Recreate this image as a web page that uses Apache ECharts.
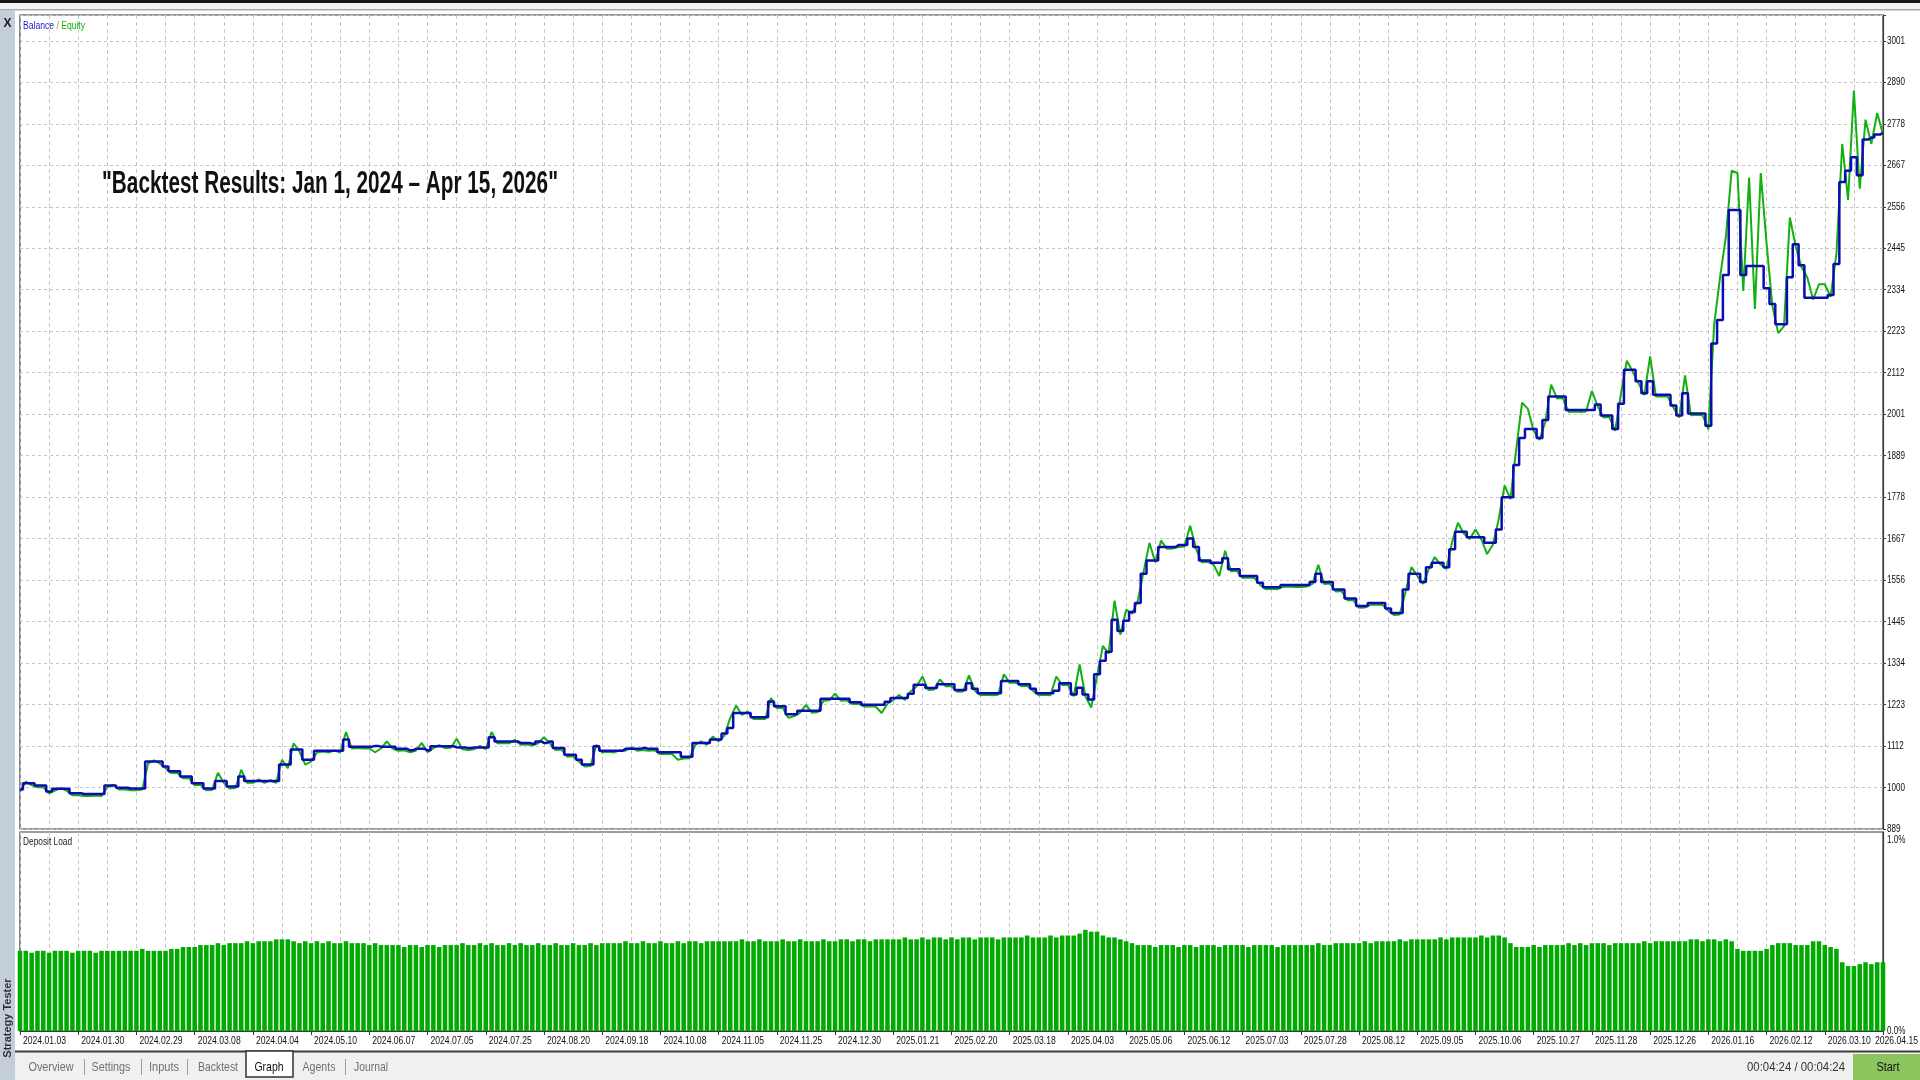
<!DOCTYPE html>
<html><head><meta charset="utf-8">
<script src="https://cdn.jsdelivr.net/npm/echarts/dist/echarts.min.js"></script>
<style>
html,body{margin:0;padding:0;width:1920px;height:1080px;overflow:hidden;background:#ffffff;}
#chart{position:absolute;left:0;top:0;width:1920px;height:1080px;}
</style></head><body><div id="chart"></div>
<script>
// ---------------- DATA ----------------
const chartTitle = '"Backtest Results: Jan 1, 2024 \u2013 Apr 15, 2026"';
const dateLabels = ['2024.01.03','2024.01.30','2024.02.29','2024.03.08','2024.04.04','2024.05.10','2024.06.07','2024.07.05','2024.07.25','2024.08.20','2024.09.18','2024.10.08','2024.11.05','2024.11.25','2024.12.30','2025.01.21','2025.02.20','2025.03.18','2025.04.03','2025.05.06','2025.06.12','2025.07.03','2025.07.28','2025.08.12','2025.09.05','2025.10.06','2025.10.27','2025.11.28','2025.12.26','2026.01.16','2026.02.12','2026.03.10','2026.04.15'];
const yTickLabels = ['889','1000','1112','1223','1334','1445','1556','1667','1778','1889','2001','2112','2223','2334','2445','2556','2667','2778','2890','3001'];
const loadTickLabels = ['0.0%','1.0%'];
const loadTickValues = [0, 1];
const balance = [
995,1012,1012,1006,1006,990,997,997,997,985,
985,983,983,983,983,1006,1006,1000,1000,998,
998,998,1070,1070,1070,1057,1044,1044,1030,1030,
1012,1012,998,998,1018,1018,1003,1003,1030,1018,
1018,1018,1018,1018,1018,1062,1062,1102,1102,1075,
1075,1099,1099,1099,1099,1099,1129,1110,1110,1110,
1110,1112,1110,1110,1110,1104,1104,1100,1104,1104,
1100,1111,1111,1111,1111,1108,1108,1106,1108,1108,
1108,1135,1124,1124,1124,1124,1120,1120,1118,1124,
1120,1124,1106,1106,1088,1088,1075,1062,1062,1111,
1099,1099,1099,1099,1104,1104,1104,1106,1104,1104,
1095,1095,1095,1095,1083,1083,1120,1120,1120,1129,
1129,1145,1160,1200,1200,1200,1189,1189,1189,1231,
1218,1218,1197,1197,1206,1206,1206,1206,1238,1238,
1238,1238,1238,1229,1229,1222,1222,1222,1222,1230,
1240,1240,1240,1252,1276,1276,1267,1267,1277,1277,
1277,1262,1262,1280,1265,1253,1253,1253,1253,1286,
1286,1286,1277,1277,1265,1253,1253,1253,1260,1280,
1280,1250,1268,1250,1236,1304,1340,1364,1450,1420,
1447,1471,1495,1573,1609,1609,1645,1645,1645,1650,
1650,1668,1645,1609,1609,1603,1603,1615,1585,1585,
1567,1567,1567,1549,1537,1537,1537,1543,1543,1543,
1543,1543,1551,1573,1551,1551,1531,1531,1507,1507,
1487,1487,1495,1495,1495,1480,1468,1468,1531,1573,
1573,1551,1591,1603,1603,1591,1639,1686,1686,1671,
1671,1671,1656,1656,1692,1778,1778,1865,1937,1961,
1961,1937,1985,2048,2048,2048,2012,2012,2012,2012,
2012,2027,1997,1997,1961,2029,2120,2120,2089,2057,
2089,2053,2053,2053,2024,1997,2057,2003,2003,2003,
1970,2190,2253,2374,2548,2548,2374,2398,2398,2398,
2338,2296,2242,2242,2368,2456,2400,2313,2313,2313,
2313,2320,2403,2623,2653,2689,2641,2737,2742,2750,2755
];
const equity = [
990,1016,1007,1001,1001,985,992,999,992,980,
980,978,978,979,978,1001,1008,995,995,993,
993,995,1065,1073,1065,1052,1039,1040,1025,1026,
1007,1008,993,994,1040,1013,998,999,1048,1013,
1013,1022,1013,1020,1013,1075,1052,1119,1097,1062,
1070,1094,1097,1094,1100,1094,1149,1105,1106,1105,
1105,1095,1105,1124,1105,1099,1100,1095,1099,1120,
1095,1106,1114,1106,1107,1131,1103,1101,1103,1112,
1103,1149,1119,1120,1119,1128,1115,1116,1113,1119,
1135,1119,1101,1102,1083,1084,1070,1057,1058,1115,
1094,1096,1094,1100,1099,1108,1099,1101,1099,1100,
1090,1091,1090,1075,1078,1079,1115,1124,1115,1137,
1124,1140,1187,1220,1195,1204,1184,1185,1184,1240,
1213,1214,1187,1192,1201,1222,1201,1202,1233,1234,
1252,1233,1234,1224,1225,1217,1218,1217,1200,1225,
1235,1248,1235,1258,1271,1298,1262,1263,1290,1272,
1272,1257,1258,1301,1260,1248,1249,1248,1249,1304,
1281,1282,1272,1273,1260,1248,1249,1248,1298,1275,
1276,1245,1330,1245,1215,1299,1380,1359,1501,1410,
1477,1466,1501,1579,1656,1604,1662,1640,1641,1645,
1646,1702,1640,1604,1605,1598,1567,1635,1580,1581,
1562,1563,1562,1544,1532,1533,1532,1538,1539,1538,
1538,1539,1546,1597,1546,1547,1526,1527,1502,1503,
1482,1483,1490,1491,1490,1475,1463,1464,1526,1591,
1568,1546,1586,1618,1598,1586,1660,1710,1681,1666,
1692,1666,1626,1651,1720,1810,1773,1907,2032,2015,
1956,1932,1980,2080,2043,2044,2007,2008,2007,2008,
2063,2022,1992,1993,1956,2057,2144,2115,2084,2052,
2156,2048,2049,2048,2019,1992,2105,1998,1999,1998,
1960,2240,2367,2475,2653,2647,2331,2635,2283,2647,
2459,2291,2218,2237,2528,2451,2395,2367,2308,2349,
2349,2315,2431,2725,2575,2868,2605,2790,2725,2808,2750
];
const depositLoad = [
.42,.42,.41,.42,.42,.41,.42,.42,.42,.41,
.42,.42,.42,.41,.42,.42,.42,.42,.42,.42,
.42,.43,.42,.42,.42,.42,.43,.43,.44,.44,
.44,.45,.45,.45,.46,.45,.46,.46,.46,.47,
.46,.47,.47,.47,.48,.48,.48,.47,.46,.47,
.46,.47,.46,.47,.46,.46,.47,.46,.46,.46,
.45,.46,.45,.45,.45,.45,.44,.45,.45,.44,
.45,.45,.44,.45,.45,.45,.46,.45,.45,.46,
.45,.46,.45,.45,.46,.45,.46,.45,.45,.46,
.45,.45,.46,.45,.45,.46,.45,.45,.46,.45,
.46,.46,.46,.46,.47,.46,.46,.47,.46,.46,
.47,.46,.46,.47,.46,.47,.47,.46,.47,.47,
.47,.47,.47,.47,.48,.47,.47,.48,.47,.47,
.47,.48,.47,.47,.48,.47,.47,.47,.48,.47,
.47,.48,.48,.47,.48,.48,.47,.48,.48,.48,
.48,.48,.49,.48,.48,.49,.48,.49,.49,.48,
.49,.48,.49,.49,.48,.49,.49,.49,.48,.49,
.49,.49,.49,.50,.49,.49,.49,.50,.49,.50,
.50,.50,.51,.53,.52,.52,.50,.49,.49,.48,
.47,.46,.45,.45,.45,.44,.45,.45,.45,.44,
.45,.45,.44,.45,.45,.45,.44,.45,.45,.45,
.45,.44,.45,.45,.45,.45,.44,.45,.45,.45,
.45,.45,.45,.46,.45,.45,.46,.46,.46,.46,
.46,.47,.46,.47,.47,.47,.47,.48,.47,.48,
.48,.48,.48,.48,.49,.48,.49,.49,.49,.49,
.49,.50,.49,.50,.50,.49,.46,.44,.44,.44,
.45,.44,.45,.45,.45,.45,.46,.45,.46,.45,
.46,.46,.46,.45,.46,.46,.46,.46,.46,.47,
.46,.47,.47,.47,.47,.47,.47,.48,.48,.47,
.48,.48,.47,.48,.47,.43,.42,.42,.42,.42,
.43,.45,.46,.46,.46,.45,.45,.45,.47,.47,
.45,.44,.43,.36,.34,.34,.35,.36,.35,.36,.36
];
const tabNames = ['Overview','Settings','Inputs','Backtest','Graph','Agents','Journal'];
const timerText = '00:04:24 / 00:04:24';

// ---------------- LAYOUT / STYLE ----------------
const SANS = '"Liberation Sans",Arial,sans-serif';
const Y_STEP = 111.16, Y_MIN = 8 * Y_STEP, Y_MAX = 3070.5;
const LOAD_MAX = 1.042;
const LABEL_EVERY = 10, GRID_EVERY = 5;
const cats = balance.map((_, i) => String(i));
const gridLine = { color: '#c6c6c6', type: [4, 3], width: 1 };

const mctx = document.createElement('canvas').getContext('2d');
function fitScale(text, font, target) { mctx.font = font; return target / mctx.measureText(text).width; }

const chart = echarts.init(document.getElementById('chart'), null, { renderer: 'canvas' });
chart.setOption({
  animation: false,
  backgroundColor: '#ffffff',
  grid: [
    { left: 20, right: 37, top: 15, height: 814, show: true, borderColor: '#3a3a3a', borderWidth: 1.2, backgroundColor: '#ffffff', outerBoundsMode: 'none', containLabel: false },
    { left: 20, right: 37, top: 832, height: 199, show: true, borderColor: '#3a3a3a', borderWidth: 1.2, backgroundColor: '#ffffff', outerBoundsMode: 'none', containLabel: false }
  ],
  xAxis: [
    { type: 'category', gridIndex: 0, data: cats, boundaryGap: false,
      axisLine: { show: false }, axisTick: { show: false }, axisLabel: { show: false },
      splitLine: { show: true, interval: i => i % GRID_EVERY === 0, lineStyle: gridLine } },
    { type: 'category', gridIndex: 1, data: cats, boundaryGap: false,
      axisLine: { show: true, lineStyle: { color: '#3a3a3a', width: 1.2 } },
      axisTick: { show: true, interval: i => i % LABEL_EVERY === 0, length: 4, lineStyle: { color: '#3a3a3a' } },
      axisLabel: { show: false },
      splitLine: { show: true, interval: i => i % GRID_EVERY === 0, lineStyle: gridLine } }
  ],
  yAxis: [
    { type: 'value', gridIndex: 0, position: 'right', min: Y_MIN, max: Y_MAX, interval: Y_STEP,
      axisLine: { show: true, lineStyle: { color: '#3a3a3a', width: 1.2 } },
      axisTick: { show: true, length: 3, lineStyle: { color: '#3a3a3a' } },
      axisLabel: { show: false },
      splitLine: { show: true, lineStyle: { color: '#c6c6c6', type: [3, 3], width: 1 } } },
    { type: 'value', gridIndex: 1, position: 'right', min: 0, max: LOAD_MAX, interval: 1,
      axisLine: { show: true, lineStyle: { color: '#3a3a3a', width: 1.2 } },
      axisTick: { show: false }, axisLabel: { show: false }, splitLine: { show: false } }
  ],
  series: [
    { name: 'Equity', type: 'line', xAxisIndex: 0, yAxisIndex: 0, data: equity, symbol: 'none', z: 2,
      lineStyle: { color: '#12b012', width: 2 } },
    { name: 'Balance', type: 'line', xAxisIndex: 0, yAxisIndex: 0, data: balance, symbol: 'none', z: 3, step: 'middle',
      lineStyle: { color: '#0c0cb0', width: 2.5 } },
    { name: 'Deposit Load', type: 'bar', xAxisIndex: 1, yAxisIndex: 1, data: depositLoad, barCategoryGap: '22%',
      itemStyle: { color: '#00aa00' } }
  ]
});

// ---------------- TEXT & CHROME (graphic) ----------------
const graphics = [];
graphics.push({ type: 'rect', shape: { x: 0, y: 0, width: 1920, height: 3 }, style: { fill: '#151515' } });
graphics.push({ type: 'rect', shape: { x: 0, y: 3, width: 1920, height: 6 }, style: { fill: '#f2f2f2' } });
graphics.push({ type: 'rect', shape: { x: 0, y: 9, width: 1920, height: 1.5 }, style: { fill: '#a9a9a9' } });
graphics.push({ type: 'rect', shape: { x: 0, y: 10, width: 15, height: 1070 }, style: { fill: '#c3ceda' } });
graphics.push({ type: 'text', x: 7.5, y: 24, style: { text: 'X', font: 'bold 12px ' + SANS, fill: '#1a1a1a', textAlign: 'center', textVerticalAlign: 'middle' } });
graphics.push({ type: 'text', x: 8, y: 1018, rotation: Math.PI / 2, style: { text: 'Strategy Tester', font: 'bold 11px ' + SANS, fill: '#333333', textAlign: 'center', textVerticalAlign: 'middle' } });
graphics.push({ type: 'rect', shape: { x: 15, y: 1052, width: 1905, height: 28 }, style: { fill: '#f0f0f0' } });
graphics.push({ type: 'rect', shape: { x: 15, y: 1050.5, width: 1905, height: 2 }, style: { fill: '#3c3c3c' } });
const tabCenters = [51, 111, 164, 218, 269, 319, 371];
const tabWidths = [45, 39, 30, 40, 29, 33, 34];
graphics.push({ type: 'rect', shape: { x: 246, y: 1051, width: 47, height: 26 }, style: { fill: '#ffffff', stroke: '#303030', lineWidth: 1.5 } });
[84, 141, 187, 345].forEach(x => graphics.push({ type: 'rect', shape: { x: x, y: 1059, width: 1, height: 16 }, style: { fill: '#9a9a9a' } }));
tabNames.forEach((t, k) => {
  const f = '13px ' + SANS;
  graphics.push({ type: 'text', x: tabCenters[k], y: 1067, scaleX: fitScale(t, f, tabWidths[k]),
    style: { text: t, font: f, fill: t === 'Graph' ? '#111111' : '#707070', textAlign: 'center', textVerticalAlign: 'middle' } });
});
{
  const f = '13px ' + SANS;
  graphics.push({ type: 'text', x: 1845, y: 1067, scaleX: fitScale(timerText, f, 98), style: { text: timerText, font: f, fill: '#333333', textAlign: 'right', textVerticalAlign: 'middle' } });
  graphics.push({ type: 'rect', shape: { x: 1853, y: 1054, width: 67, height: 26 }, style: { fill: '#8cc55e' } });
  graphics.push({ type: 'text', x: 1888, y: 1067, scaleX: fitScale('Start', f, 23), style: { text: 'Start', font: f, fill: '#111111', textAlign: 'center', textVerticalAlign: 'middle' } });
}
{
  const f = '11px ' + SANS;
  graphics.push({ type: 'text', x: 23, y: 26, z: 100, scaleX: fitScale('Balance / Equity', f, 62),
    style: { text: '{b|Balance}{s| / }{e|Equity}', font: f, textVerticalAlign: 'middle',
      rich: { b: { fill: '#1c1cc8', font: f }, s: { fill: '#b08a2a', font: f }, e: { fill: '#10b010', font: f } } } });
  graphics.push({ type: 'text', x: 23, y: 842, z: 100, scaleX: fitScale('Deposit Load', f, 49),
    style: { text: 'Deposit Load', font: f, fill: '#1a1a1a', textVerticalAlign: 'middle' } });
  const tf = 'bold 32px ' + SANS;
  graphics.push({ type: 'text', x: 102, y: 184, z: 100, scaleX: fitScale(chartTitle, tf, 456),
    style: { text: chartTitle, font: tf, fill: '#111111', textVerticalAlign: 'middle' } });
}
// axis tick labels, placed through the axes' own scales
{
  const f = '11px ' + SANS;
  const ySX = fitScale('3001', f, 18);
  const rightX = chart.convertToPixel({ xAxisIndex: 0 }, cats[cats.length - 1]);
  yTickLabels.forEach((t, k) => {
    const py = chart.convertToPixel({ yAxisIndex: 0 }, Y_MIN + k * Y_STEP);
    graphics.push({ type: 'text', x: rightX + 4, y: py, z: 100, scaleX: ySX,
      style: { text: t, font: f, fill: '#111111', textVerticalAlign: 'middle' } });
  });
  loadTickLabels.forEach((t, k) => {
    const py = chart.convertToPixel({ yAxisIndex: 1 }, loadTickValues[k]);
    graphics.push({ type: 'text', x: rightX + 4, y: py, z: 100, scaleX: ySX,
      style: { text: t, font: f, fill: '#111111', textVerticalAlign: 'middle' } });
  });
  const xSX = fitScale('2024.01.03', f, 43);
  const axisY = chart.convertToPixel({ yAxisIndex: 1 }, 0);
  mctx.font = f;
  dateLabels.forEach((t, j) => {
    const px = chart.convertToPixel({ xAxisIndex: 1 }, cats[j * LABEL_EVERY]);
    const w = mctx.measureText(t).width * xSX;
    const x = Math.min(px + 3, 1918 - w);
    graphics.push({ type: 'text', x: x, y: axisY + 10, z: 90, scaleX: xSX,
      style: { text: t, font: f, fill: '#111111', textVerticalAlign: 'middle' } });
  });
}
chart.setOption({ graphic: { elements: graphics } });
</script>
</body></html>
